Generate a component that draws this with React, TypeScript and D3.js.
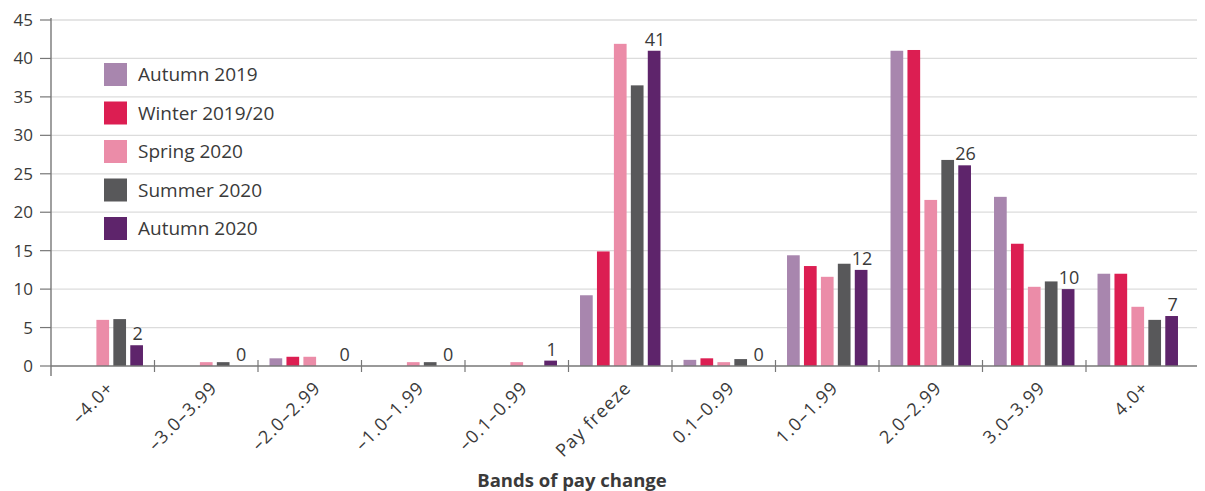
import React from "react";
import * as d3 from "d3";

const categories = ["–4.0+", "–3.0–3.99", "–2.0–2.99", "–1.0–1.99", "–0.1–0.99", "Pay freeze", "0.1–0.99", "1.0–1.99", "2.0–2.99", "3.0–3.99", "4.0+"];
const seriesNames = ["Autumn 2019", "Winter 2019/20", "Spring 2020", "Summer 2020", "Autumn 2020"];
const seriesColors = ["#a886ae", "#dc1e52", "#eb8ca8", "#58585a", "#5e246b"];
const autumn2019 = [0, 0, 1.0, 0, 0, 9.2, 0.8, 14.4, 41.0, 22.0, 12.0];
const winter2019 = [0, 0, 1.2, 0, 0, 14.9, 1.0, 13.0, 41.1, 15.9, 12.0];
const spring2020 = [6.0, 0.5, 1.2, 0.5, 0.5, 41.9, 0.5, 11.6, 21.6, 10.3, 7.7];
const summer2020 = [6.1, 0.5, 0, 0.5, 0, 36.5, 0.9, 13.3, 26.8, 11.0, 6.0];
const autumn2020 = [2.7, 0, 0, 0, 0.7, 41.0, 0, 12.5, 26.1, 10.0, 6.5];
const autumn2020Labels = ["2", "0", "0", "0", "1", "41", "0", "12", "26", "10", "7"];
const yTicks = [0, 5, 10, 15, 20, 25, 30, 35, 40, 45];
const xTitle = "Bands of pay change";

const allSeries = [autumn2019, winter2019, spring2020, summer2020, autumn2020];

export default function App() {
  const W = 1205, H = 491;
  const left = 51, right = 1189.5, gridRight = 1197;
  const y0 = 366, yTop = 20;
  const font = "'Open Sans', sans-serif";
  const textColor = "#3a3a3a";

  const x = d3.scaleBand<string>().domain(categories).range([left, right]).padding(0);
  const inner = d3.scaleBand<string>().domain(seriesNames).range([0, x.bandwidth()]).paddingInner(0.25).paddingOuter(0.68);
  const y = d3.scaleLinear().domain([0, 45]).range([y0, yTop]);

  const boundaries = categories.map((c) => x(c) as number).concat([right]);

  return (
    <svg width={W} height={H} style={{ position: "absolute", left: 0, top: 0, background: "#fff" }} fontFamily={font}>
      {yTicks.filter((t) => t > 0).map((t) => (
        <line key={"g" + t} x1={left} x2={gridRight} y1={y(t)} y2={y(t)} stroke="#dcdcdc" strokeWidth={1.3} />
      ))}
      {yTicks.map((t) => (
        <g key={"yt" + t}>
          <line x1={40} x2={left} y1={y(t)} y2={y(t)} stroke="#777" strokeWidth={1.2} />
          <text x={33} y={y(t)} dy="0.35em" textAnchor="end" fontSize={17} fill={textColor}>{t}</text>
        </g>
      ))}
      {allSeries.map((vals, si) =>
        vals.map((v, ci) => (
          <rect
            key={"b" + si + "-" + ci}
            x={(x(categories[ci]) as number) + (inner(seriesNames[si]) as number)}
            y={y(v)}
            width={inner.bandwidth()}
            height={y0 - y(v)}
            fill={seriesColors[si]}
          />
        ))
      )}
      <line x1={left} x2={left} y1={yTop - 2} y2={y0 + 10} stroke="#777" strokeWidth={1.4} />
      <line x1={left} x2={gridRight} y1={y0} y2={y0} stroke="#777" strokeWidth={1.6} />
      {boundaries.slice(1, -1).map((b, i) => (
        <line key={"xt" + i} x1={b} x2={b} y1={y0 - 6} y2={y0 + 6} stroke="#777" strokeWidth={1.2} />
      ))}
      {autumn2020.map((v, ci) => {
        const cx = (x(categories[ci]) as number) + (inner(seriesNames[4]) as number) + inner.bandwidth() / 2;
        return (
          <text key={"dl" + ci} x={cx + 1} y={y(v) - 5} textAnchor="middle" fontSize={18} fill={textColor}>
            {autumn2020Labels[ci]}
          </text>
        );
      })}
      {categories.map((c) => {
        const cx = (x(c) as number) + x.bandwidth() / 2 + 12;
        const cy = 389;
        return (
          <text key={"xl" + c} transform={`translate(${cx},${cy}) rotate(-45)`} textAnchor="end" fontSize={18} letterSpacing={1.1} fill={textColor}>
            {c}
          </text>
        );
      })}
      <text x={572} y={487} textAnchor="middle" fontSize={18.5} fontWeight="bold" fill={textColor}>{xTitle}</text>
      {seriesNames.map((s, i) => (
        <g key={"lg" + i} transform={`translate(104,${63 + i * 38.5})`}>
          <rect x={0} y={0} width={23} height={23} fill={seriesColors[i]} />
          <text x={34} y={11.5} dy="0.36em" fontSize={19} fill={textColor}>{s}</text>
        </g>
      ))}
    </svg>
  );
}
